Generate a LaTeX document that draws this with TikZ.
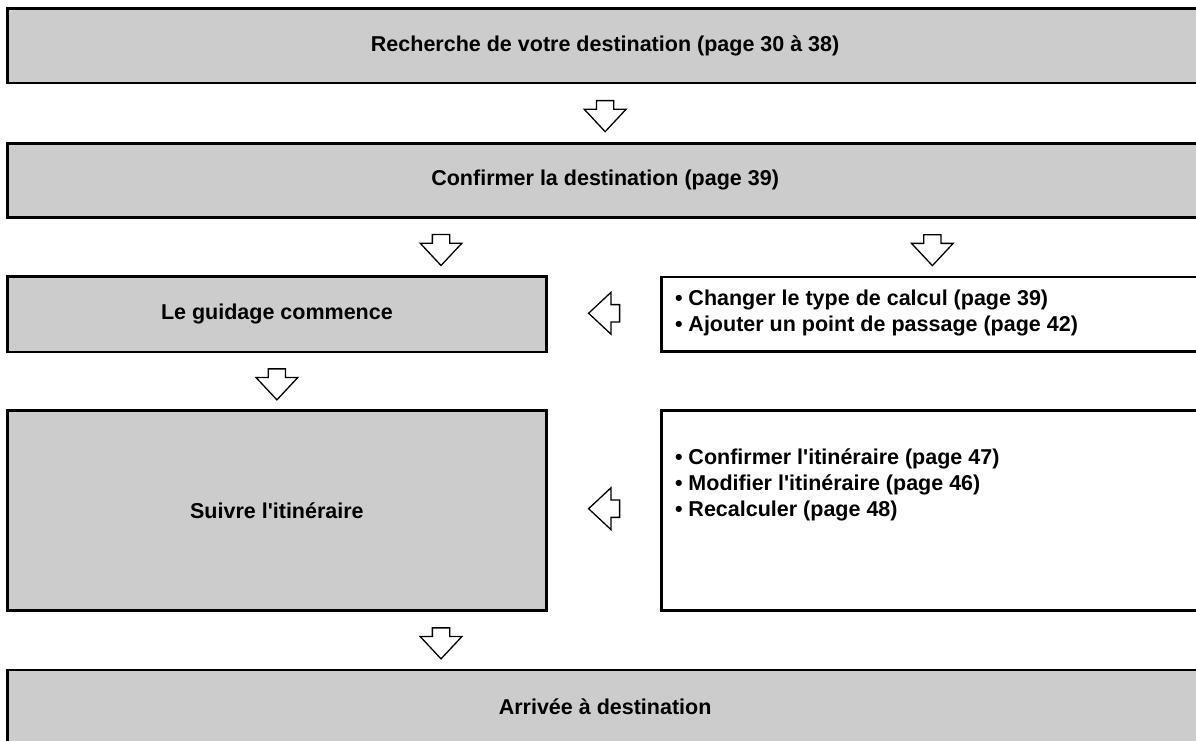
\documentclass[tikz,border=0pt]{standalone}
\usepackage{fontspec}
\setmainfont{Liberation Sans}
\usetikzlibrary{calc}
\definecolor{boxgray}{HTML}{CCCCCC}
\begin{document}
\begin{tikzpicture}[x=1pt,y=-1pt,
  box/.style={draw=black, line width=2.7pt, fill=boxgray, inner sep=0pt, outer sep=0pt,
    font=\bfseries\fontsize{21.5}{26}\selectfont, align=center},
  whitebox/.style={box, fill=white},
  itemtext/.style={inner sep=0pt, outer sep=0pt, anchor=base west, font=\bfseries\fontsize{21.5}{26}\selectfont},
  arrowline/.style={draw=black, line width=1.3pt, fill=white, line join=miter},
  downarr/.pic={\path[arrowline] (-8.65,0) -- (8.65,0) -- (8.65,8.7) -- (20.85,8.7) -- (0,31) -- (-20.85,8.7) -- (-8.65,8.7) -- cycle;},
  leftarr/.pic={\path[arrowline] (15.5,-8.65) -- (15.5,8.65) -- (6.8,8.65) -- (6.8,20.85) -- (-15.5,0) -- (6.8,-20.85) -- (6.8,-8.65) -- cycle;}
]
\useasboundingbox (0,0) rectangle (1196,741);

% boxes
\node[box, minimum width=1195.7pt, minimum height=74.3pt, anchor=north west] (b1) at (7.3,8.7) {Recherche de votre destination (page 30 à 38)};
\node[box, minimum width=1195.7pt, minimum height=74pt, anchor=north west] (b2) at (7.3,143.3) {Confirmer la destination (page 39)};
\node[box, minimum width=539.2pt, minimum height=75.3pt, anchor=north west] (b3) at (7.3,276.7) {Le guidage commence};
\node[box, minimum width=539.2pt, minimum height=200pt, anchor=north west] (b4) at (7.3,410.7) {Suivre l\textquotesingle itinéraire};
\node[box, minimum width=1195.7pt, minimum height=74pt, anchor=north west] (b5) at (7.3,670) {Arrivée à destination};
\node[whitebox, minimum width=541.3pt, minimum height=74.3pt, anchor=north west] (r1) at (661.7,277) {};
\node[whitebox, minimum width=541.3pt, minimum height=200pt, anchor=north west] (r2) at (661.7,410.7) {};

% texts of the right boxes
\node[itemtext] (r1a) at (675,305) {• Changer le type de calcul (page 39)};
\node[itemtext] (r1b) at (675,331.2) {• Ajouter un point de passage (page 42)};
\node[itemtext] (r2a) at (675,464.5) {• Confirmer l\textquotesingle itinéraire (page 47)};
\node[itemtext] (r2b) at (675,490.5) {• Modifier l\textquotesingle itinéraire (page 46)};
\node[itemtext] (r2c) at (675,516.5) {• Recalculer (page 48)};

% block arrows
\pic at ($(b1.south)!0.5!(b2.north)+(0,-12.5)$) {downarr};
\pic at ($(b2.south)!0.5!(b3.north)+(0,-12.5)$) {downarr};
\pic at ($(b2.south -| r1.north)!0.5!(r1.north)+(0,-12.5)$) {downarr};
\pic at ($(b3.south)!0.5!(b4.north)+(0,-12.5)$) {downarr};
\pic at ($(b4.south)!0.5!(b5.north)+(0,-12.5)$) {downarr};
\pic at ($(b3.east)!0.5!(r1.west)+(0,-1)$) {leftarr};
\pic at ($(b4.east)!0.5!(r2.west)+(0,-2)$) {leftarr};
\end{tikzpicture}
\end{document}
